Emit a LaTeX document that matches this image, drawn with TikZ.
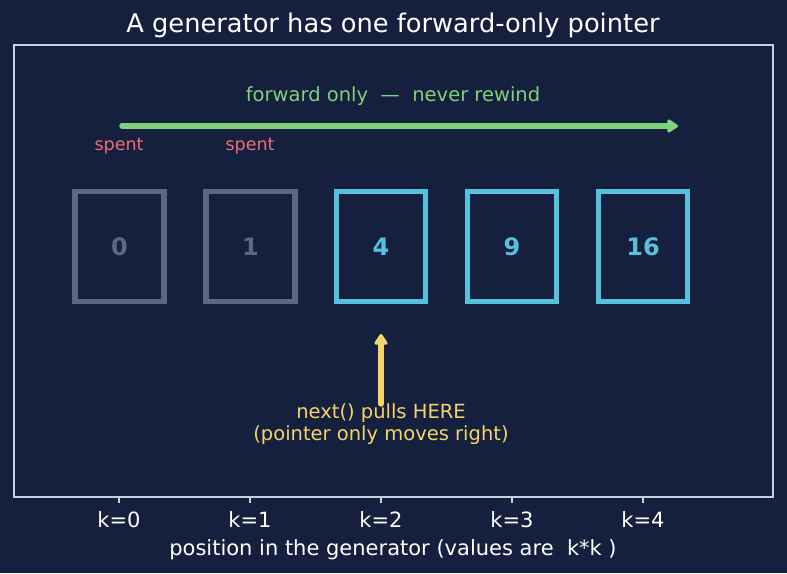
\documentclass[tikz,border=0pt]{standalone}
\usepackage{fontspec}
\setmainfont{DejaVu Sans}
\usetikzlibrary{arrows.meta}
\definecolor{bg}{RGB}{21,32,62}
\definecolor{frame}{RGB}{200,208,224}
\definecolor{spentc}{RGB}{90,104,134}
\definecolor{livec}{RGB}{86,193,220}
\definecolor{greenc}{RGB}{127,209,122}
\definecolor{redc}{RGB}{240,107,120}
\definecolor{yellowc}{RGB}{245,211,107}
\tikzset{
  cell/.style={draw, line width=5.4pt, minimum width=89pt, minimum height=110pt, inner sep=0pt, font=\fontsize{24}{28}\selectfont\bfseries},
  spentbox/.style={cell, draw=spentc, text=spentc},
  livebox/.style={cell, draw=livec, text=livec},
  ticklab/.style={text=white, font=\fontsize{21}{25}\selectfont},
  spentlab/.style={text=redc, font=\fontsize{17.5}{20}\selectfont},
  fwd/.style={draw=greenc, line width=5.4pt, line cap=round, -{Triangle[round,length=12pt,width=15pt]}},
  ptr/.style={draw=yellowc, line width=5.4pt, line cap=round, -{Triangle[round,length=12pt,width=15pt]}},
}
\begin{document}
\begin{tikzpicture}[x=1pt,y=-1pt]
\fill[bg] (0,0) rectangle (787,573);
\useasboundingbox (0,0) rectangle (787,573);
\node[text=white, font=\fontsize{25.7}{30}\selectfont] (title) at (393,25) {A generator has one forward-only pointer};
\draw[frame, line width=1.8pt] (14,45) rectangle (773,497);
% boxes
\node[spentbox] (b0) at (119.5,246.5) {0};
\node[spentbox] (b1) at (250.5,246.5) {1};
\node[livebox] (b2) at (381,246.5) {4};
\node[livebox] (b3) at (512,246.5) {9};
\node[livebox] (b4) at (643,246.5) {16};
% forward arrow
\node[text=greenc, font=\fontsize{19.5}{23}\selectfont] (fwdlab) at (393,96) {forward only\ \ —\ \ never rewind};
\coordinate (fs) at (122,126);
\coordinate (fe) at (678,126);
\draw[fwd] (fs) -- (fe);
\node[spentlab] (s0) at (119,146) {spent};
\node[spentlab] (s1) at (250,146) {spent};
% pointer
\coordinate (ps) at (381,404);
\coordinate (pe) at (381,334);
\draw[ptr] (ps) -- (pe);
\node[text=yellowc, font=\fontsize{19.5}{23}\selectfont, align=center] (plab) at (381,424) {next() pulls HERE\\[-1pt](pointer only moves right)};
% axis ticks
\foreach \i/\x in {0/119,1/250,2/381,3/512,4/643}{
  \coordinate (t\i) at (\x,497);
  \node[ticklab] (k\i) at (\x,520) {k=\i};
  \draw[frame, line width=1.8pt] (t\i) -- ++(0,6);
}
\node[ticklab] (xlab) at (393,550) {position in the generator (values are\ \ k*k )};
\end{tikzpicture}
\end{document}
